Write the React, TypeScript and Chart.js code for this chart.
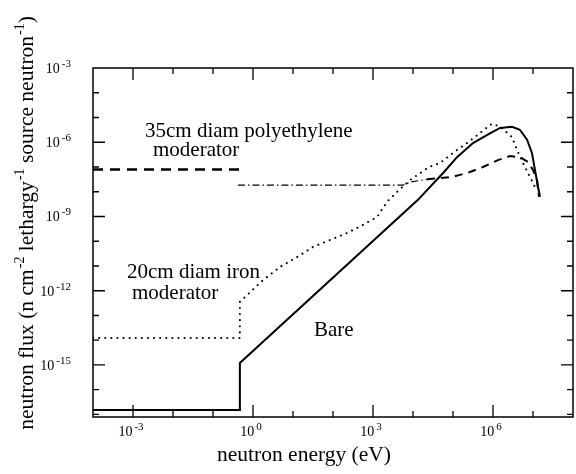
import React, { useEffect, useRef } from 'react';
import { Chart, registerables } from 'chart.js';

Chart.register(...registerables);

// Bare source (solid)
const bareEnergy = [1e-4, 0.47, 0.47, 1.33e4, 5.96e4, 1.26e5, 3.16e5, 8.4e5, 1.5e6, 3.0e6, 4.7e6, 7.1e6, 9.4e6, 1.12e7, 1.33e7, 1.5e7];
const bareFlux = [1.5e-17, 1.5e-17, 1.2e-15, 4.7e-9, 6.3e-8, 2.5e-7, 9.3e-7, 2.3e-6, 3.8e-6, 4.2e-6, 3.2e-6, 1.26e-6, 3.7e-7, 7.6e-8, 1.6e-8, 6.3e-9];

// 20cm diam iron moderator (dotted)
const ironEnergy = [1e-4, 0.47, 0.47, 1.78, 4.73, 12.6, 31.6, 84.1, 224, 562, 1.26e3, 2.24e3, 3.98e3, 8.41e3, 2.51e4, 4.73e4, 1.26e5, 2.24e5, 4.73e5, 8.41e5, 1.0e6, 1.58e6, 2.99e6, 3.98e6, 5.62e6, 8.41e6, 1.12e7];
const ironFlux = [1.23e-14, 1.23e-14, 3.55e-13, 2.69e-12, 9.1e-12, 2.29e-11, 5.9e-11, 1.12e-10, 2.14e-10, 4.57e-10, 9.5e-10, 3.9e-9, 9.8e-9, 2.95e-8, 1.0e-7, 1.45e-7, 4.9e-7, 9.3e-7, 2.34e-6, 5.0e-6, 5.6e-6, 4.0e-6, 1.62e-6, 4.9e-7, 1.45e-7, 4.0e-8, 1.55e-8];

// 35cm diam polyethylene moderator, thermal part (dashed)
const polyThermalEnergy = [1e-4, 0.47];
const polyThermalFlux = [8e-8, 8e-8];

// 35cm diam polyethylene moderator, above cut-off (dash-dot, then dashed)
const polyEnergy = [0.42, 5.6e3, 8.4e3, 2.24e4, 1.0e5, 2.66e5, 5.62e5, 1.33e6, 2.66e6, 4.73e6, 7.5e6, 1.0e7, 1.26e7, 1.41e7];
const polyFlux = [1.86e-8, 1.86e-8, 2.45e-8, 3.2e-8, 4.0e-8, 6.3e-8, 1.0e-7, 1.9e-7, 2.75e-7, 2.5e-7, 1.58e-7, 7.6e-8, 2.95e-8, 6.2e-9];

// Axis ranges and ticks
const xMin = 1e-4;
const xMax = 1e8;
const yMin = 7.9e-18;
const yMax = 1e-3;
const xTickExponents = [-3, 0, 3, 6];
const yTickExponents = [-3, -6, -9, -12, -15];

const xTitle = 'neutron energy (eV)';
const yTitleParts: [string, boolean][] = [
  ['neutron flux (n cm', false],
  ['-2', true],
  [' lethargy', false],
  ['-1', true],
  [' source neutron', false],
  ['-1', true],
  [')', false],
];

const FONT = "'Liberation Serif', 'Times New Roman', serif";

function pts(xs: number[], ys: number[]) {
  return xs.map((x, i) => ({ x, y: ys[i] }));
}

function drawPower(ctx: CanvasRenderingContext2D, exp: string, x: number, y: number, align: 'center' | 'right') {
  const baseFont = `14px ${FONT}`;
  const expFont = `11px ${FONT}`;
  ctx.font = baseFont;
  const wb = ctx.measureText('10').width;
  ctx.font = expFont;
  const we = ctx.measureText(exp).width;
  const gap = 2;
  const total = wb + gap + we;
  const left = align === 'center' ? x - total / 2 : x - total;
  ctx.textAlign = 'left';
  ctx.textBaseline = 'alphabetic';
  ctx.font = baseFont;
  ctx.fillText('10', left, y);
  ctx.font = expFont;
  ctx.fillText(exp, left + wb + gap, y - 6);
}

const framePlugin = {
  id: 'framePlugin',
  afterDraw(chart: any) {
    const ctx: CanvasRenderingContext2D = chart.ctx;
    const { left, right, top, bottom } = chart.chartArea;
    const xs = chart.scales.x;
    const ys = chart.scales.y;
    ctx.save();
    ctx.strokeStyle = '#000';
    ctx.fillStyle = '#000';
    ctx.lineWidth = 1.5;
    ctx.strokeRect(left, top, right - left, bottom - top);

    // x ticks (each decade, major every 3)
    ctx.lineWidth = 1.3;
    for (let k = -4; k <= 8; k++) {
      const px = xs.getPixelForValue(Math.pow(10, k));
      if (px <= left + 0.5 || px >= right - 0.5) continue;
      const len = k % 3 === 0 ? 12 : 6;
      ctx.beginPath();
      ctx.moveTo(px, bottom);
      ctx.lineTo(px, bottom - len);
      ctx.moveTo(px, top);
      ctx.lineTo(px, top + len);
      ctx.stroke();
    }
    // y ticks
    for (let k = -17; k <= -3; k++) {
      const py = ys.getPixelForValue(Math.pow(10, k));
      if (py >= bottom - 0.5 || py <= top + 0.5) continue;
      const len = k % 3 === 0 ? 12 : 6;
      ctx.beginPath();
      ctx.moveTo(left, py);
      ctx.lineTo(left + len, py);
      ctx.moveTo(right, py);
      ctx.lineTo(right - len, py);
      ctx.stroke();
    }

    // tick labels
    xTickExponents.forEach((e) => {
      const px = xs.getPixelForValue(Math.pow(10, e));
      drawPower(ctx, String(e), px - 2, 436, 'center');
    });
    yTickExponents.forEach((e) => {
      const py = ys.getPixelForValue(Math.pow(10, e));
      drawPower(ctx, String(e), 71, py + 5, 'right');
    });

    // x title
    ctx.font = `21.5px ${FONT}`;
    ctx.textAlign = 'center';
    ctx.textBaseline = 'alphabetic';
    ctx.fillText(xTitle, 304, 461);

    // y title (rotated, with superscripts)
    const mainFont = `21.5px ${FONT}`;
    const supFont = `14px ${FONT}`;
    let total = 0;
    yTitleParts.forEach(([t, sup]) => {
      ctx.font = sup ? supFont : mainFont;
      total += ctx.measureText(t).width + (sup ? 1 : 0);
    });
    ctx.translate(33, 223);
    ctx.rotate(-Math.PI / 2);
    let cx = -total / 2;
    ctx.textAlign = 'left';
    yTitleParts.forEach(([t, sup]) => {
      ctx.font = sup ? supFont : mainFont;
      ctx.fillText(t, cx + (sup ? 1 : 0), sup ? -9 : 0);
      cx += ctx.measureText(t).width + (sup ? 1 : 0);
    });
    ctx.setTransform(1, 0, 0, 1, 0, 0);

    // annotations
    ctx.font = `21px ${FONT}`;
    ctx.textAlign = 'left';
    ctx.fillText('35cm diam polyethylene', 145, 137);
    ctx.fillText('moderator', 153, 156);
    ctx.fillText('20cm diam iron', 127, 278);
    ctx.fillText('moderator', 132, 299);
    ctx.fillText('Bare', 314, 336);
    ctx.restore();
  },
};

export default function App() {
  const ref = useRef<HTMLCanvasElement | null>(null);
  useEffect(() => {
    if (!ref.current) return;
    const chart = new Chart(ref.current, {
      type: 'line',
      data: {
        datasets: [
          {
            label: 'Bare',
            data: pts(bareEnergy, bareFlux),
            borderColor: '#000',
            borderWidth: 2,
            pointRadius: 0,
            tension: 0,
          },
          {
            label: '20cm diam iron moderator',
            data: pts(ironEnergy, ironFlux),
            borderColor: '#000',
            borderWidth: 2,
            borderDash: [0.1, 6],
            borderCapStyle: 'round',
            pointRadius: 0,
            tension: 0,
          },
          {
            label: '35cm diam polyethylene moderator (thermal)',
            data: pts(polyThermalEnergy, polyThermalFlux),
            borderColor: '#000',
            borderWidth: 2.5,
            borderDash: [10, 7],
            pointRadius: 0,
            tension: 0,
          },
          {
            label: '35cm diam polyethylene moderator',
            data: pts(polyEnergy, polyFlux),
            borderColor: '#000',
            borderWidth: 1.6,
            pointRadius: 0,
            tension: 0,
            segment: {
              borderDash: (c: any) => (c.p0.parsed.x < 1.5e4 ? [7, 3, 1.5, 3] : [8, 6]),
              borderWidth: (c: any) => (c.p0.parsed.x < 1.5e4 ? 1.2 : 2),
            },
          } as any,
        ],
      },
      options: {
        responsive: false,
        animation: false,
        layout: { padding: { left: 93, top: 68, right: 3, bottom: 57 } },
        plugins: { legend: { display: false }, tooltip: { enabled: false } },
        scales: {
          x: { type: 'logarithmic', min: xMin, max: xMax, display: false },
          y: { type: 'logarithmic', min: yMin, max: yMax, display: false },
        },
      },
      plugins: [framePlugin],
    });
    return () => chart.destroy();
  }, []);
  return (
    <div style={{ position: 'absolute', left: 0, top: 0, width: 576, height: 474, background: '#fff' }}>
      <canvas ref={ref} width={576} height={474} />
    </div>
  );
}
